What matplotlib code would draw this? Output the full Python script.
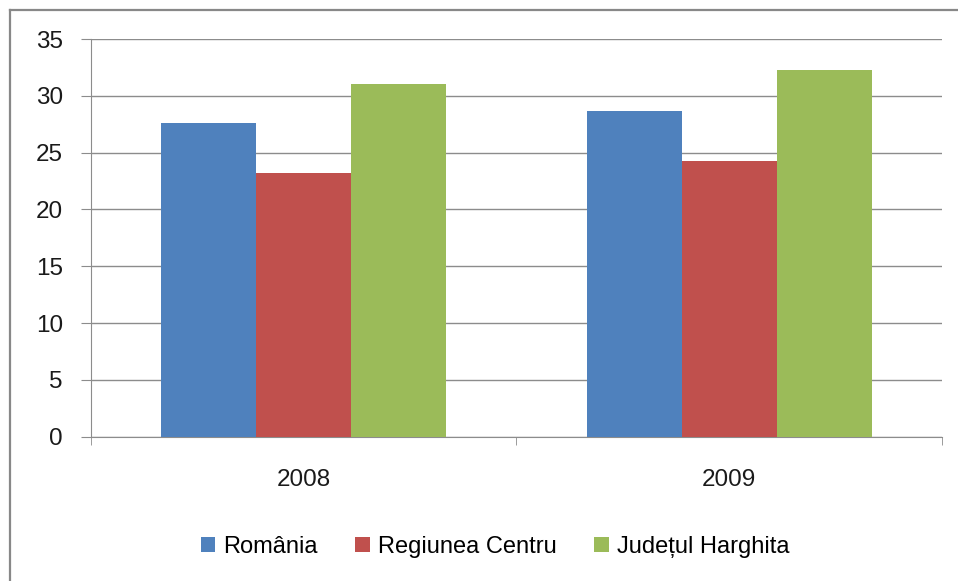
import matplotlib
matplotlib.use("Agg")
import matplotlib.pyplot as plt
from matplotlib.lines import Line2D
from matplotlib.patches import Patch
import numpy as np

plt.rcParams['font.family'] = ['Liberation Sans Narrow', 'Liberation Sans', 'DejaVu Sans']

categories = ["2008", "2009"]
series_names = ["România", "Regiunea Centru", "Județul Harghita"]
romania = [27.6, 28.7]
centru = [23.2, 24.3]
harghita = [31.0, 32.3]
colors = ["#4F81BD", "#C0504D", "#9BBB59"]
yticks = [0, 5, 10, 15, 20, 25, 30, 35]

fig = plt.figure(figsize=(9.58, 5.81), dpi=100)
fig.patch.set_facecolor("white")
# frame lines (top and left)
fig.add_artist(Line2D([9.5/958, 9.5/958], [0, 1 - 9.5/581], color="#888888", lw=1.6, transform=fig.transFigure))
fig.add_artist(Line2D([9.5/958, 1], [1 - 9.5/581, 1 - 9.5/581], color="#888888", lw=1.6, transform=fig.transFigure))

ax = fig.add_axes([90.7/958, 1 - 436.6/581, (942 - 90.7)/958, (436.6 - 39)/581])
x = np.arange(len(categories))
w = 95 / 426
for i, (vals, name) in enumerate(zip([romania, centru, harghita], series_names)):
    ax.bar(x + (i - 1) * w, vals, width=w, color=colors[i], label=name, zorder=3)

ax.set_xlim(-0.5, 1.5)
ax.set_ylim(0, 35)
ax.set_yticks(yticks)
ax.yaxis.grid(True, color="#8C8C8C", lw=1.0, zorder=0)
ax.set_axisbelow(True)
for s in ["top", "right"]:
    ax.spines[s].set_visible(False)
ax.spines["left"].set_color("#8C8C8C")
ax.spines["bottom"].set_color("#8C8C8C")
ax.tick_params(axis="y", length=7, color="#8C8C8C", pad=13, labelsize=17.5, labelcolor="#1a1a1a")
ax.set_xticks(x)
ax.set_xticklabels(categories)
ax.tick_params(axis="x", which="major", length=0, pad=23, labelsize=17.5, labelcolor="#1a1a1a")
ax.set_xticks([-0.5, 0.5, 1.5], minor=True)
ax.tick_params(axis="x", which="minor", length=6, color="#8C8C8C")

handles = [Patch(facecolor=c, edgecolor="none") for c in colors]
fig.legend(handles, series_names, loc="center", bbox_to_anchor=(495/958, 1 - 547/581),
           ncol=3, frameon=False, fontsize=17, handlelength=0.6, handleheight=0.6,
           handletextpad=0.35, columnspacing=1.6)

fig.savefig("out.png", dpi=100)
